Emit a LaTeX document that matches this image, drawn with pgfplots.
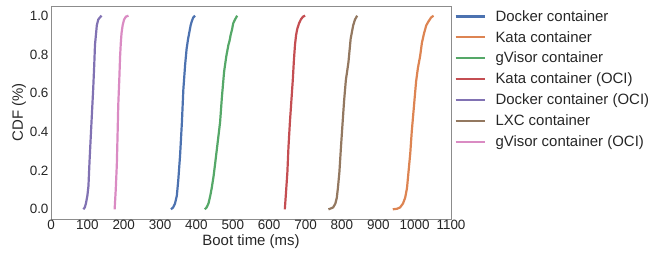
\documentclass[border=0pt]{standalone}
\usepackage{pgfplots}
\pgfplotsset{compat=1.18}
\usepackage{fontspec}
\setmainfont{Liberation Sans}
\definecolor{sbblue}{HTML}{4C72B0}
\definecolor{sborange}{HTML}{DD8452}
\definecolor{sbgreen}{HTML}{55A868}
\definecolor{sbred}{HTML}{C44E52}
\definecolor{sbpurple}{HTML}{8172B3}
\definecolor{sbbrown}{HTML}{937860}
\definecolor{sbpink}{HTML}{DA8BC3}
\definecolor{txt}{HTML}{262626}
\begin{document}
\begin{tikzpicture}
\begin{axis}[
  at={(0,0)}, anchor=south west,
  scale only axis,
  width=400bp, height=213bp,
  xmin=0, xmax=1100, ymin=-0.05, ymax=1.05,
  xtick={0,100,...,1100},
  ytick={0,0.2,0.4,0.6,0.8,1.0},
  yticklabel style={/pgf/number format/fixed, /pgf/number format/fixed zerofill, /pgf/number format/precision=1},
  xticklabel style={/pgf/number format/1000 sep={}},
  /pgf/number format/assume math mode=true,
  scaled y ticks=false,
  scaled x ticks=false,
  major tick length=0pt,
  tick label style={font=\fontsize{13.5}{15}\selectfont, text=txt},
  label style={font=\fontsize{15}{17}\selectfont, text=txt},
  xticklabel style={yshift=2bp},
  yticklabel style={xshift=1bp},
  xlabel={Boot time (ms)},
  ylabel={CDF (\%)},
  xlabel style={yshift=2bp},
  ylabel style={yshift=-3bp},
  axis line style={black!45, line width=0.8bp},
  legend style={at={(1.008,0.99)}, anchor=north west, draw=none, fill=none,
    font=\fontsize{15}{17}\selectfont, text=txt, row sep=4.6bp, inner sep=0pt,
    /tikz/every odd column/.append style={column sep=7bp}},
  legend cell align=left,
  legend image post style={xscale=1.76},
]
\addplot[sbblue, line width=2.2bp] coordinates {(330,0) (336,0.01) (341,0.03) (346,0.07) (350,0.15) (355,0.28) (360,0.45) (364,0.62) (369,0.75) (373,0.83) (377,0.88) (380,0.91) (384,0.95) (387,0.97) (391,0.99) (396,1.0)};
\addlegendentry{Docker container}
\addplot[sborange, line width=2.2bp] coordinates {(940,0) (952,0.003) (960,0.01) (968,0.03) (974,0.06) (979,0.11) (983,0.19) (988,0.29) (992,0.40) (998,0.53) (1004,0.66) (1009,0.73) (1015,0.79) (1020,0.86) (1026,0.91) (1032,0.95) (1038,0.97) (1045,0.99) (1052,1.0)};
\addlegendentry{Kata container}
\addplot[sbgreen, line width=2.2bp] coordinates {(423,0) (428,0.01) (433,0.03) (438,0.07) (442,0.11) (447,0.17) (451,0.23) (458,0.34) (465,0.45) (470,0.58) (476,0.71) (482,0.79) (488,0.85) (491,0.87) (494,0.90) (498,0.93) (501,0.96) (506,0.98) (512,1.0)};
\addlegendentry{gVisor container}
\addplot[sbred, line width=2.2bp] coordinates {(643,0) (646,0.08) (650,0.19) (653,0.32) (657,0.45) (661,0.56) (665,0.67) (668,0.77) (671,0.85) (674,0.90) (677,0.93) (682,0.96) (687,0.98) (693,0.995) (699,1.0)};
\addlegendentry{Kata container (OCI)}
\addplot[sbpurple, line width=2.2bp] coordinates {(89,0) (93,0.01) (96,0.03) (100,0.07) (103,0.12) (106,0.25) (110,0.40) (113,0.51) (116,0.62) (119,0.75) (121,0.85) (124,0.91) (126,0.95) (130,0.98) (134,0.99) (139,1.0)};
\addlegendentry{Docker container (OCI)}
\addplot[sbbrown, line width=2.2bp] coordinates {(763,0) (770,0.005) (776,0.01) (782,0.03) (786,0.06) (789,0.11) (793,0.19) (797,0.31) (802,0.45) (806,0.56) (811,0.67) (815,0.72) (818,0.76) (821,0.82) (824,0.88) (828,0.92) (831,0.95) (836,0.98) (842,1.0)};
\addlegendentry{LXC container}
\addplot[sbpink, line width=2.2bp] coordinates {(175,0) (178,0.10) (181,0.23) (183,0.38) (185,0.54) (188,0.68) (190,0.79) (192,0.86) (194,0.91) (197,0.95) (201,0.98) (206,0.995) (213,1.0)};
\addlegendentry{gVisor container (OCI)}
\end{axis}
\path (-51bp,-31bp) rectangle (603bp,219bp);
\end{tikzpicture}
\end{document}
